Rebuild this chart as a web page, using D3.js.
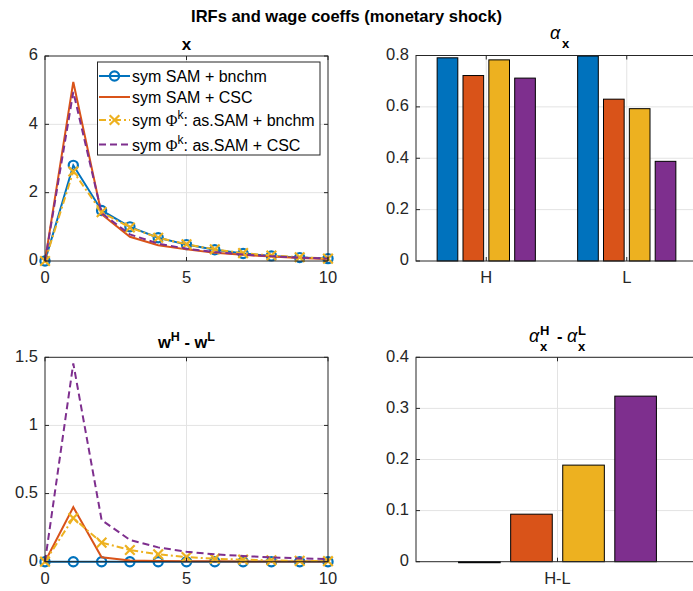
<!DOCTYPE html>
<html>
<head>
<meta charset="utf-8">
<script src="https://cdn.jsdelivr.net/npm/d3@7"></script>
<style>
  body { margin: 0; background: #fff; }
  text { font-family: "Liberation Sans", Arial, sans-serif; }
</style>
</head>
<body>
<div id="chart"></div>
<script>
// data
const periods = [0, 1, 2, 3, 4, 5, 6, 7, 8, 9, 10];
const seriesNames = ["sym SAM + bnchm", "sym SAM + CSC", "sym \u03A6k: as.SAM + bnchm", "sym \u03A6k: as.SAM + CSC"];

const xBnchm   = [0, 2.80, 1.48, 1.00, 0.68, 0.48, 0.33, 0.22, 0.15, 0.10, 0.07];
const xCsc     = [0, 5.24, 1.37, 0.71, 0.46, 0.34, 0.24, 0.18, 0.13, 0.09, 0.06];
const xPhiB    = [0, 2.62, 1.43, 0.98, 0.68, 0.49, 0.34, 0.23, 0.16, 0.11, 0.07];
const xPhiC    = [0, 4.95, 1.40, 0.78, 0.51, 0.36, 0.26, 0.19, 0.14, 0.10, 0.07];

const wBnchm   = [0, 0, 0, 0, 0, 0, 0, 0, 0, 0, 0];
const wCsc     = [0, 0.40, 0.032, 0.008, 0.005, 0.004, 0.003, 0.002, 0.002, 0.001, 0.001];
const wPhiB    = [0, 0.32, 0.14, 0.086, 0.054, 0.034, 0.022, 0.015, 0.010, 0.006, 0.004];
const wPhiC    = [0, 1.455, 0.306, 0.16, 0.105, 0.073, 0.054, 0.042, 0.032, 0.024, 0.02];

const alphaCats = ["H", "L"];
const alphaH = [0.791, 0.722, 0.783, 0.712];
const alphaL = [0.798, 0.630, 0.593, 0.388];

const diffCats = ["H-L"];
const alphaDiff = [-0.002, 0.093, 0.189, 0.324];

const colors = ["#0072BD", "#D95319", "#EDB120", "#7E2F8E"];
const dashes = [null, null, "7,3,2,3", "7,4"];
const markers = ["o", null, "x", null];

const W = 693, H = 591;
const svg = d3.select("#chart").append("svg")
    .attr("width", W).attr("height", H);

const axisCol = "#262626", gridCol = "#e3e3e3";

function frame(box, x, y, xticks, yticks) {
    const g = svg.append("g");
    xticks.forEach(t => g.append("line")
        .attr("x1", x(t)).attr("x2", x(t)).attr("y1", box.top).attr("y2", box.bottom)
        .attr("stroke", gridCol));
    yticks.forEach(t => g.append("line")
        .attr("x1", box.left).attr("x2", box.right).attr("y1", y(t)).attr("y2", y(t))
        .attr("stroke", gridCol));
    return g;
}

function decorate(box, x, y, xticks, yticks, xfmt, yfmt) {
    const g = svg.append("g");
    g.append("rect")
        .attr("x", box.left).attr("y", box.top)
        .attr("width", box.right - box.left).attr("height", box.bottom - box.top)
        .attr("fill", "none").attr("stroke", axisCol).attr("stroke-width", 1);
    const tl = 4;
    xticks.forEach(t => {
        g.append("line").attr("x1", x(t)).attr("x2", x(t))
            .attr("y1", box.bottom).attr("y2", box.bottom - tl).attr("stroke", axisCol);
        g.append("line").attr("x1", x(t)).attr("x2", x(t))
            .attr("y1", box.top).attr("y2", box.top + tl).attr("stroke", axisCol);
        g.append("text").attr("x", x(t)).attr("y", box.bottom + 18)
            .attr("text-anchor", "middle").attr("dominant-baseline", "middle")
            .attr("font-size", 16.5).attr("fill", axisCol).text(xfmt(t));
    });
    yticks.forEach(t => {
        g.append("line").attr("x1", box.left).attr("x2", box.left + tl)
            .attr("y1", y(t)).attr("y2", y(t)).attr("stroke", axisCol);
        g.append("line").attr("x1", box.right).attr("x2", box.right - tl)
            .attr("y1", y(t)).attr("y2", y(t)).attr("stroke", axisCol);
        g.append("text").attr("x", box.left - 7).attr("y", y(t))
            .attr("text-anchor", "end").attr("dominant-baseline", "middle")
            .attr("font-size", 16.5).attr("fill", axisCol).text(yfmt(t));
    });
}

function drawSeries(g, x, y, vals, i) {
    const line = d3.line().x((d, k) => x(periods[k])).y(d => y(d));
    g.append("path").datum(vals)
        .attr("d", line).attr("fill", "none")
        .attr("stroke", colors[i]).attr("stroke-width", 2)
        .attr("stroke-dasharray", dashes[i]);
    vals.forEach((v, k) => drawMarker(g, x(periods[k]), y(v), i));
}

function drawMarker(g, cx, cy, i) {
    if (markers[i] === "o") {
        g.append("circle").attr("cx", cx).attr("cy", cy).attr("r", 4.6)
            .attr("fill", "none").attr("stroke", colors[i]).attr("stroke-width", 2.2);
    } else if (markers[i] === "x") {
        const s = 4.8;
        g.append("path")
            .attr("d", `M${cx - s},${cy - s}L${cx + s},${cy + s}M${cx - s},${cy + s}L${cx + s},${cy - s}`)
            .attr("stroke", colors[i]).attr("stroke-width", 2.2);
    }
}

// top-left: x
const boxTL = {left: 45, right: 328, top: 56, bottom: 261};
const xTL = d3.scaleLinear().domain([0, 10]).range([boxTL.left, boxTL.right]);
const yTL = d3.scaleLinear().domain([0, 6]).range([boxTL.bottom, boxTL.top]);
const gTL = frame(boxTL, xTL, yTL, [5], [2, 4]);
[xBnchm, xCsc, xPhiB, xPhiC].forEach((s, i) => drawSeries(gTL, xTL, yTL, s, i));
decorate(boxTL, xTL, yTL, [0, 5, 10], [0, 2, 4, 6], d => d, d => d);

// bottom-left: wH - wL
const boxBL = {left: 45, right: 328, top: 357.3, bottom: 561.7};
const xBL = d3.scaleLinear().domain([0, 10]).range([boxBL.left, boxBL.right]);
const yBL = d3.scaleLinear().domain([0, 1.5]).range([boxBL.bottom, boxBL.top]);
const gBL = frame(boxBL, xBL, yBL, [5], [0.5, 1]);
[wBnchm, wCsc, wPhiB, wPhiC].forEach((s, i) => drawSeries(gBL, xBL, yBL, s, i));
decorate(boxBL, xBL, yBL, [0, 5, 10], [0, 0.5, 1, 1.5], d => d, d => d);

// bar panels
function bars(box, cats, rows, ymax, yticks) {
    const x = d3.scaleLinear().domain([0.5, cats.length + 0.5]).range([box.left, box.right]);
    const y = d3.scaleLinear().domain([0, ymax]).range([box.bottom, box.top]);
    const g = frame(box, x, y, cats.map((c, i) => i + 1), yticks.slice(1));
    const step = 0.184, bw = 0.147;
    rows.forEach((row, ci) => {
        row.forEach((v, i) => {
            const c = ci + 1 + (i - 1.5) * step;
            g.append("rect")
                .attr("x", x(c - bw / 2)).attr("width", x(c + bw / 2) - x(c - bw / 2))
                .attr("y", y(Math.max(v, 0))).attr("height", Math.abs(y(v) - y(0)))
                .attr("fill", colors[i]).attr("stroke", "#000").attr("stroke-width", 1);
        });
    });
    decorate(box, x, y, cats.map((c, i) => i + 1), yticks, d => cats[d - 1], d => d);
}

const boxTR = {left: 416, right: 697, top: 55.5, bottom: 261};
bars(boxTR, alphaCats, [alphaH, alphaL], 0.8, [0, 0.2, 0.4, 0.6, 0.8]);

const boxBR = {left: 416, right: 699, top: 357.3, bottom: 561.7};
bars(boxBR, diffCats, [alphaDiff], 0.4, [0, 0.1, 0.2, 0.3, 0.4]);

// titles
svg.append("text").attr("x", 346.5).attr("y", 22).attr("text-anchor", "middle")
    .attr("font-size", 16.5).attr("font-weight", "bold").attr("fill", "#000")
    .text("IRFs and wage coeffs (monetary shock)");

svg.append("text").attr("x", (boxTL.left + boxTL.right) / 2).attr("y", 49.5)
    .attr("text-anchor", "middle").attr("font-size", 17).attr("font-weight", "bold")
    .text("x");

const tTR = svg.append("g").attr("font-weight", "bold");
tTR.append("text").attr("x", 550).attr("y", 38.5)
    .attr("font-family", "'Liberation Serif', serif").attr("font-style", "italic")
    .attr("font-weight", "normal").attr("font-size", 18).text("\u03B1");
tTR.append("text").attr("x", 562).attr("y", 47.5).attr("font-size", 13).text("x");

const tBL = svg.append("text").attr("x", (boxBL.left + boxBL.right) / 2).attr("y", 348)
    .attr("text-anchor", "middle").attr("font-size", 16.5).attr("font-weight", "bold");
tBL.append("tspan").text("w");
tBL.append("tspan").attr("dy", -7).attr("font-size", 12.5).text("H");
tBL.append("tspan").attr("dy", 7).text(" - w");
tBL.append("tspan").attr("dy", -7).attr("font-size", 12.5).text("L");

// alpha_x^H - alpha_x^L : stacked sub/superscripts
const tBR = svg.append("g").attr("font-weight", "bold");
function alphaSS(x0, sup) {
    tBR.append("text").attr("x", x0).attr("y", 342)
        .attr("font-family", "'Liberation Serif', serif").attr("font-style", "italic")
        .attr("font-weight", "normal").attr("font-size", 18).text("\u03B1");
    tBR.append("text").attr("x", x0 + 11).attr("y", 335).attr("font-size", 13).text(sup);
    tBR.append("text").attr("x", x0 + 11).attr("y", 350.5).attr("font-size", 13).text("x");
}
alphaSS(529, "H");
tBR.append("text").attr("x", 557).attr("y", 342).attr("font-size", 16.5).text("-");
alphaSS(567, "L");

// legend
const lg = svg.append("g");
lg.append("rect").attr("x", 97.5).attr("y", 62).attr("width", 222.5).attr("height", 93)
    .attr("fill", "#fff").attr("stroke", axisCol).attr("stroke-width", 1);
const rowY = [76, 97, 120, 144.5];
seriesNames.forEach((name, i) => {
    lg.append("line").attr("x1", 99).attr("x2", 130).attr("y1", rowY[i]).attr("y2", rowY[i])
        .attr("stroke", colors[i]).attr("stroke-width", 2).attr("stroke-dasharray", dashes[i]);
    drawMarker(lg, 114.5, rowY[i], i);
    const t = lg.append("text").attr("x", 132).attr("y", rowY[i] + 6)
        .attr("font-size", 16).attr("fill", "#000");
    if (name.includes("\u03A6k")) {
        const [a, b] = name.split("\u03A6k");
        t.append("tspan").text(a);
        t.append("tspan").attr("font-family", "'Liberation Serif', serif").text("\u03A6");
        t.append("tspan").attr("dy", -7).attr("font-size", 12).text("k");
        t.append("tspan").attr("dy", 7).text(b);
    } else {
        t.text(name);
    }
});
</script>
</body>
</html>
